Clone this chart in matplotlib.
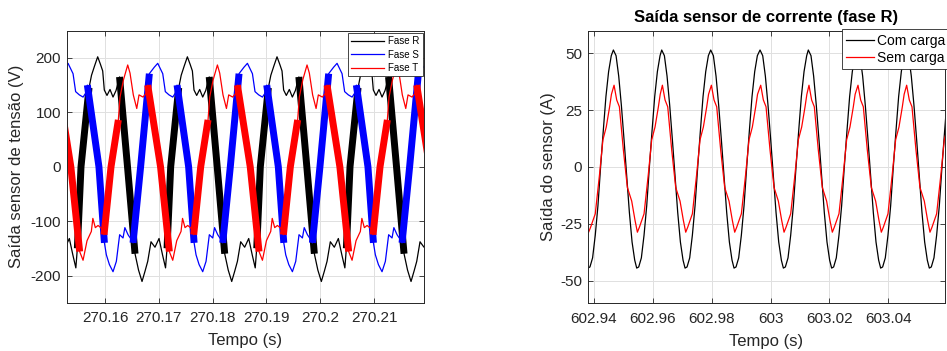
import numpy as np
import matplotlib
matplotlib.use("Agg")
import matplotlib.pyplot as plt
from matplotlib.ticker import FixedLocator, FixedFormatter

plt.rcParams['font.family'] = ['Liberation Sans', 'DejaVu Sans']
plt.rcParams['axes.unicode_minus'] = False

# ---------- left panel: voltage sensor, one cycle per phase ----------
# times in ms after LEFT_BASE; offsets in ms from the rising zero crossing
LEFT_BASE = 270.15
r_start_ms = [-11.13, 5.54, 22.21, 38.87, 55.54]
r_off_ms = [0.0, 1.49, 1.95, 2.51, 3.10, 3.62, 4.03, 4.33, 4.83, 5.39, 5.95, 6.51,
            7.16, 8.64, 10.04, 10.69, 11.34, 11.90, 12.40, 13.01, 13.75, 14.50,
            15.15, 15.71, 15.99]
r_volt = [0, 145, 168, 185, 202, 188, 176, 141, 131, 142, 128, 140,
          165, 0, -160, -190, -211, -192, -174, -138, -148, -132,
          -162, -186, -150]
r_bands_ms = [(-0.70, 1.49), (7.16, 10.04)]

s_start_ms = [-0.05, 16.62, 33.29, 49.95, 66.62]
s_off_ms = [0.0, 1.62, 2.55, 3.18, 4.11, 4.59, 5.28, 5.97, 6.58, 6.77, 8.92, 9.94,
            10.30, 10.87, 11.54, 12.16, 12.77, 13.40, 13.74, 14.33, 14.94, 15.26]
s_volt = [0, 171, 183, 190, 171, 138, 132, 128, 137, 150, 0, -140,
          -162, -180, -193, -174, -125, -131, -112, -125, -134, -140]
s_bands_ms = [(-1.42, 1.62), (6.77, 9.94)]

t_start_ms = [-5.55, 11.12, 27.79, 44.45, 61.12]
t_off_ms = [0.0, 1.36, 1.67, 2.32, 3.10, 3.53, 4.14, 4.78, 5.20, 5.95, 6.51, 6.82,
            9.20, 10.84, 11.47, 12.21, 13.01, 13.29, 13.75, 14.26, 14.87, 15.37]
t_volt = [0, 86, 128, 160, 187, 172, 132, 107, 132, 128, 135, 150,
          0, -156, -172, -136, -119, -95, -112, -108, -113, -125]
t_bands_ms = [(-1.31, 1.36), (6.82, 10.84)]

left_xlim = (270.15288, 270.21929)
left_xticks = [270.16, 270.17, 270.18, 270.19, 270.20, 270.21]
left_xticklabels = ['270.16', '270.17', '270.18', '270.19', '270.2', '270.21']
left_yticks = [-200, -100, 0, 100, 200]

# ---------- right panel: current sensor, phase R ----------
RIGHT_BASE = 602.94
peak_ms = [-9.91, 6.65, 23.06, 39.69, 56.44, 72.83, 89.47, 105.99]
com_off_ms = [0.0, 0.91, 1.81, 2.72, 3.62, 4.53, 5.43, 6.34, 7.24, 7.92, 8.60,
              9.50, 10.41, 11.32, 12.22, 13.13, 14.03, 14.94, 15.84]
com_amp = [51.5, 49, 40, 27, 12, -4, -20, -33, -41, -44.5, -44,
           -40, -30, -17, 0, 16, 31, 42, 49]
sem_off_ms = [0.23, 1.13, 2.04, 3.39, 4.75, 6.22, 7.35, 8.15, 8.83, 9.62,
              10.41, 11.88, 13.01, 14.14, 15.28, 15.90]
sem_amp = [36, 29.5, 26.5, 7.5, -9, -15, -23.5, -28.7, -26.5, -23.5,
           -20.6, -3, 12, 17.6, 26.5, 32]

right_xlim = (602.93793, 603.05934)
right_xticks = [602.94, 602.96, 602.98, 603.0, 603.02, 603.04]
right_xticklabels = ['602.94', '602.96', '602.98', '603', '603.02', '603.04']
right_yticks = [-50, -25, 0, 25, 50]

INK = '#262626'


def assemble(starts, offsets, values):
    t = np.concatenate([s + np.asarray(offsets, float) for s in starts])
    v = np.concatenate([np.asarray(values, float) for _ in starts])
    return t, v


def style(ax):
    ax.grid(True, color='#e0e0e0', lw=0.7)
    ax.set_axisbelow(True)
    ax.tick_params(direction='in', top=True, right=True, length=3.5, width=0.6,
                   color=INK, labelcolor=INK, labelsize=11)
    ax.tick_params(axis='x', pad=6)
    ax.tick_params(axis='y', pad=4)
    for sp in ax.spines.values():
        sp.set_color(INK)
        sp.set_linewidth(0.7)


W, H = 947, 351
fig = plt.figure(figsize=(W / 100, H / 100), dpi=100)
ax1 = fig.add_axes([66.7 / W, 1 - 302.7 / H, (424 - 66.7) / W, 272 / H])
ax2 = fig.add_axes([587.7 / W, 1 - 303.3 / H, (945.3 - 587.7) / W, 272.6 / H])

# left: three phases, thin trace plus thick ripple on the steep edges
phases = [
    ('Fase R', '#000000', r_start_ms, r_off_ms, r_volt, r_bands_ms),
    ('Fase S', '#0000ff', s_start_ms, s_off_ms, s_volt, s_bands_ms),
    ('Fase T', '#ff0000', t_start_ms, t_off_ms, t_volt, t_bands_ms),
]
handles = []
for name, col, starts, offs, vals, bands in phases:
    t, v = assemble(starts, offs, vals)
    ts = LEFT_BASE + t / 1000.0
    h, = ax1.plot(ts, v, color=col, lw=0.9, label=name)
    handles.append(h)
    for s in starts:
        for a, b in bands:
            m = (t >= s + a - 0.02) & (t <= s + b + 0.02)
            ax1.plot(ts[m], v[m], color=col, lw=5.0, solid_capstyle='butt',
                     solid_joinstyle='round')

ax1.set_xlim(*left_xlim)
ax1.set_ylim(-250, 250)
ax1.xaxis.set_major_locator(FixedLocator(left_xticks))
ax1.xaxis.set_major_formatter(FixedFormatter(left_xticklabels))
ax1.set_yticks(left_yticks)
ax1.set_yticklabels([str(y) for y in left_yticks])
style(ax1)
ax1.set_xlabel('Tempo (s)', fontsize=12, color=INK, va='center')
ax1.set_ylabel('Saída sensor de tensão (V)', fontsize=12, color=INK, va='center')
ax1.xaxis.set_label_coords(0.5, -0.14)
ax1.yaxis.set_label_coords(-0.14, 0.5)
leg1 = ax1.legend(handles=handles, loc='upper right',
                  bbox_to_anchor=(422.7 / W, 1 - 32.7 / H), bbox_transform=fig.transFigure,
                  fontsize=7, handlelength=3.4, fancybox=False, framealpha=1,
                  edgecolor=INK, borderpad=0.35, labelspacing=0.35, handletextpad=0.4,
                  borderaxespad=0)
leg1.get_frame().set_linewidth(0.6)

# right: with and without load
tc, vc = assemble(peak_ms, com_off_ms, com_amp)
tsn, vsn = assemble(peak_ms, sem_off_ms, sem_amp)
h1, = ax2.plot(RIGHT_BASE + tc / 1000.0, vc, color='#000000', lw=0.9, label='Com carga')
h2, = ax2.plot(RIGHT_BASE + tsn / 1000.0, vsn, color='#ff0000', lw=0.9, label='Sem carga')
ax2.set_xlim(*right_xlim)
ax2.set_ylim(-60, 60)
ax2.xaxis.set_major_locator(FixedLocator(right_xticks))
ax2.xaxis.set_major_formatter(FixedFormatter(right_xticklabels))
ax2.set_yticks(right_yticks)
ax2.set_yticklabels([str(y) for y in right_yticks])
style(ax2)
ax2.set_title('Saída sensor de corrente (fase R)', fontsize=12, fontweight='bold',
              color='#000000', y=1.05, va='center', pad=0)
ax2.set_xlabel('Tempo (s)', fontsize=12, color=INK, va='center')
ax2.set_ylabel('Saída do sensor (A)', fontsize=12, color=INK, va='center')
ax2.xaxis.set_label_coords(0.5, -0.14)
ax2.yaxis.set_label_coords(-0.11, 0.5)
leg2 = ax2.legend(handles=[h1, h2], loc='upper left',
                  bbox_to_anchor=(841.7 / W, 1 - 29.5 / H), bbox_transform=fig.transFigure,
                  fontsize=10, handlelength=2.0, fancybox=False, framealpha=1,
                  edgecolor=INK, borderpad=0.3, labelspacing=0.25, handletextpad=0.25,
                  borderaxespad=0)
leg2.get_frame().set_linewidth(0.6)

fig.savefig('out.png', dpi=100)
